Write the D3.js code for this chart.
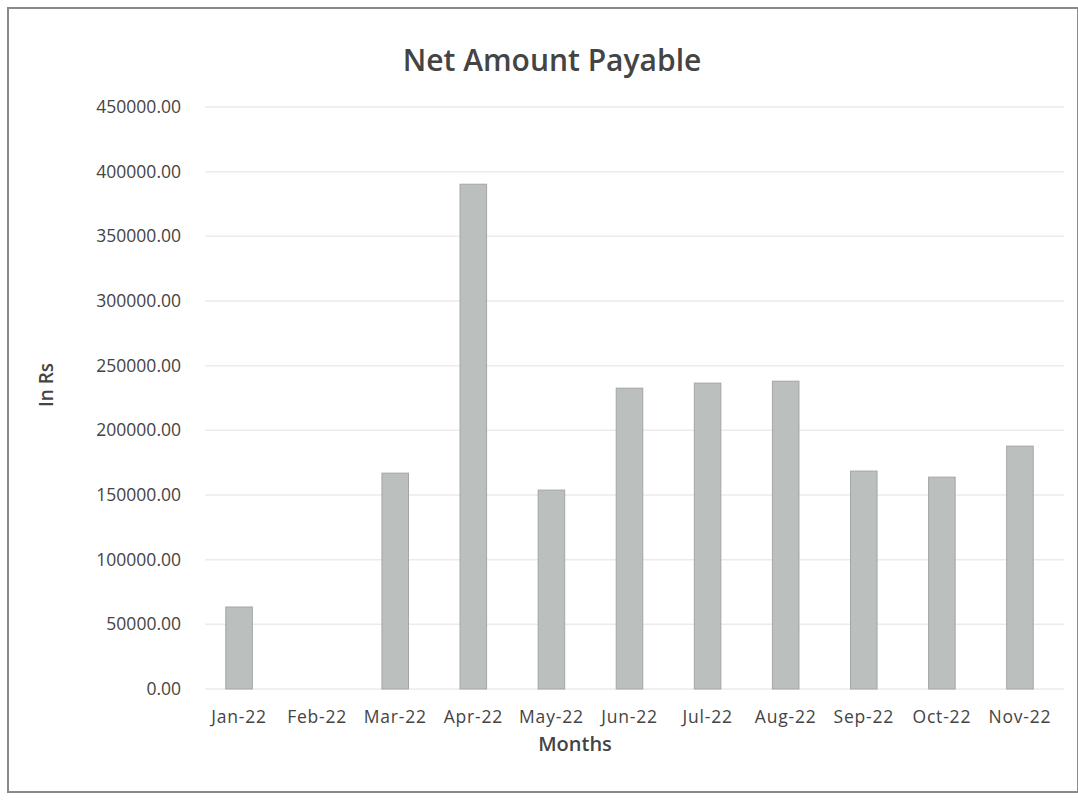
<!DOCTYPE html>
<html>
<head>
<meta charset="utf-8">
<script src="https://cdn.jsdelivr.net/npm/d3@7"></script>
<style>
  body { margin: 0; background: #fff; }
  svg text { font-family: "Open Sans", "DejaVu Sans", sans-serif; }
</style>
</head>
<body>
<div id="chart"></div>
<script>
const months = ["Jan-22", "Feb-22", "Mar-22", "Apr-22", "May-22", "Jun-22",
                "Jul-22", "Aug-22", "Sep-22", "Oct-22", "Nov-22"];
const netPayable = [63400, 0, 166900, 390300, 153800, 232600,
                    236500, 238000, 168500, 163800, 187800];
const yTicks = [0, 50000, 100000, 150000, 200000, 250000, 300000, 350000, 400000, 450000];

const WIDTH = 1078;
const HEIGHT = 800;
const margin = { top: 107, right: 19, bottom: 111, left: 200 };

const svg = d3.select("#chart")
    .append("svg")
    .attr("width", WIDTH)
    .attr("height", HEIGHT);

// outer frame
svg.append("rect")
    .attr("x", 8).attr("y", 8)
    .attr("width", WIDTH - 8).attr("height", HEIGHT - 16)
    .attr("fill", "#fff")
    .attr("stroke", "#8a8a8a")
    .attr("stroke-width", 2);

const x = d3.scaleBand()
    .domain(months)
    .range([margin.left, WIDTH - margin.right])
    .paddingInner(0.66)
    .paddingOuter(0.33);

const y = d3.scaleLinear()
    .domain([0, 450000])
    .range([HEIGHT - margin.bottom, margin.top]);

// gridlines
svg.append("g")
    .selectAll("line")
    .data(yTicks)
    .enter()
    .append("line")
    .attr("x1", margin.left + 5)
    .attr("x2", WIDTH - margin.right + 5)
    .attr("y1", d => y(d))
    .attr("y2", d => y(d))
    .attr("stroke", "#ebebeb")
    .attr("stroke-width", 1.5);

// y axis labels
const yAxis = svg.append("g")
    .attr("transform", "translate(" + (margin.left - 16) + ",0)")
    .call(d3.axisLeft(y).tickValues(yTicks).tickFormat(d3.format(".2f")).tickSize(0));
yAxis.select(".domain").remove();
yAxis.selectAll("text")
    .attr("font-size", 17.5)
    .attr("fill", "#444")
    .attr("font-family", "\"Open Sans\", sans-serif");

// x axis labels
const xAxis = svg.append("g")
    .attr("transform", "translate(0," + (HEIGHT - margin.bottom + 19) + ")")
    .call(d3.axisBottom(x).tickSize(0));
xAxis.select(".domain").remove();
xAxis.selectAll("text")
    .attr("font-size", 17.5)
    .attr("letter-spacing", 0.8)
    .attr("fill", "#444")
    .attr("font-family", "\"Open Sans\", sans-serif");

// bars
svg.append("g")
    .selectAll("rect")
    .data(netPayable)
    .enter()
    .append("rect")
    .attr("x", (d, i) => x(months[i]))
    .attr("y", d => y(d))
    .attr("width", x.bandwidth())
    .attr("height", d => y(0) - y(d))
    .attr("fill", "#bbbfbe")
    .attr("stroke", "#a2a7a6")
    .attr("stroke-width", 1);

// title
svg.append("text")
    .attr("x", 552)
    .attr("y", 71)
    .attr("text-anchor", "middle")
    .attr("font-size", 30)
    .attr("font-weight", 600)
    .attr("fill", "#444")
    .text("Net Amount Payable");

// axis titles
svg.append("text")
    .attr("x", 575)
    .attr("y", 751)
    .attr("text-anchor", "middle")
    .attr("font-size", 20)
    .attr("font-weight", 600)
    .attr("fill", "#444")
    .text("Months");

svg.append("text")
    .attr("transform", "translate(53,385) rotate(-90)")
    .attr("text-anchor", "middle")
    .attr("font-size", 19)
    .attr("font-weight", 600)
    .attr("fill", "#444")
    .text("In Rs");
</script>
</body>
</html>
